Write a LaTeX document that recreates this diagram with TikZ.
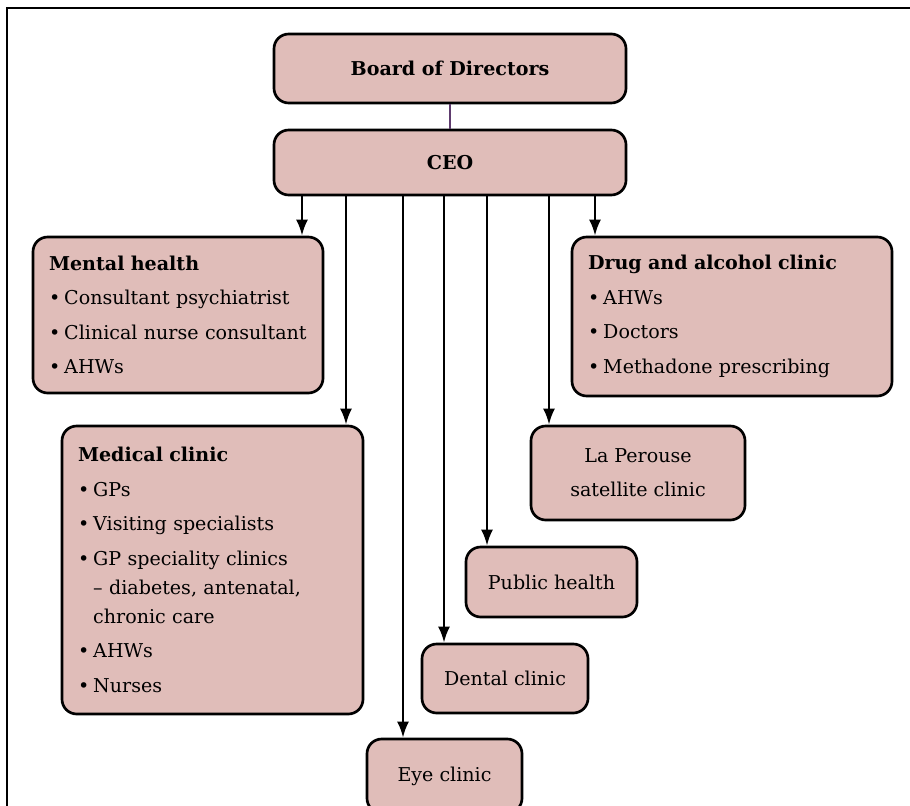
\documentclass[tikz,border=0pt]{standalone}
\usepackage{fontspec}
\setmainfont{DejaVu Serif}
\usetikzlibrary{arrows.meta}
\definecolor{unitfill}{HTML}{E0BDB9}
\definecolor{boardline}{HTML}{5E3B6E}
\newcommand{\bul}{\textbullet\hspace{3pt}}
\newcommand{\ind}{\phantom{\textbullet}\hspace{3pt}}

\begin{document}
\begin{tikzpicture}[x=0.75pt,y=-0.75pt,
                    >={Latex[length=12pt,width=9pt]},
                    unit/.style={draw,line width=2pt,fill=unitfill,rounded corners=11pt,
                                 font=\fontsize{14.3}{21.75}\selectfont,inner sep=0pt,align=center},
                    list/.style={unit,align=left,inner xsep=12pt},
                    link/.style={->,line width=1.8pt}]
                \useasboundingbox (0,0) rectangle (910,806);
                \draw[line width=1.5pt] (7,806) -- (7,8) -- (910,8);

                \node[unit, minimum width=264pt, minimum height=51.75pt] (board) at (450,68.5) {\textbf{Board of Directors}};
                \node[unit, minimum width=264pt, minimum height=48.75pt] (ceo) at (450,162.5) {\textbf{CEO}};
                \node[list, text width=193.5pt, minimum width=217.5pt, minimum height=117pt] (mental) at (178,315)
                    {\textbf{Mental health}\\[4.1pt]\bul Consultant psychiatrist\\[4.1pt]\bul Clinical nurse consultant\\[4.1pt]\bul AHWs};
                \node[list, text width=216pt, minimum width=240pt, minimum height=119.25pt] (drug) at (732,316.5)
                    {\textbf{Drug and alcohol clinic}\\[4.1pt]\bul AHWs\\[4.1pt]\bul Doctors\\[4.1pt]\bul Methadone prescribing};
                \node[list, text width=201.75pt, minimum width=225.75pt, minimum height=216pt] (medical) at (212.5,570)
                    {\textbf{Medical clinic}\\[4.1pt]\bul GPs\\[4.1pt]\bul Visiting specialists\\[4.1pt]\bul GP speciality clinics\\
                     \ind -- diabetes, antenatal,\\ \ind chronic care\\[4.1pt]\bul AHWs\\[4.1pt]\bul Nurses};
                \node[unit, minimum width=160.5pt, minimum height=70.5pt] (perouse) at (638,473) {La Perouse\\[4pt]satellite clinic};
                \node[unit, minimum width=128.25pt, minimum height=52.5pt] (public) at (551.5,582) {Public health};
                \node[unit, minimum width=124.5pt, minimum height=51.75pt] (dental) at (505,678.5) {Dental clinic};
                \node[unit, minimum width=116.25pt, minimum height=55.5pt] (eye) at (444.5,776) {Eye clinic};

                \draw[boardline, line width=1.5pt] (board) -- (ceo);
                \path[link]
                (ceo.south -| 302,0) edge (mental.north -| 302,0)
                (ceo.south -| 346,0) edge (medical.north -| 346,0)
                (ceo.south -| 403,0) edge (eye.north -| 403,0)
                (ceo.south -| 444,0) edge (dental.north -| 444,0)
                (ceo.south -| 487,0) edge (public.north -| 487,0)
                (ceo.south -| 549,0) edge (perouse.north -| 549,0)
                (ceo.south -| 595,0) edge (drug.north -| 595,0)
                ;
            \end{tikzpicture}
\end{document}
